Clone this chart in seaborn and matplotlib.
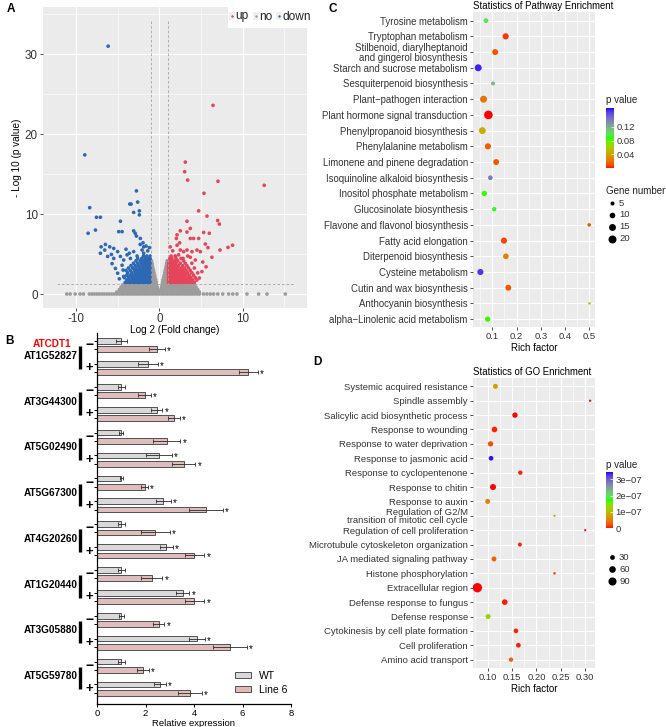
import numpy as np
import pandas as pd
import seaborn as sns
import matplotlib.pyplot as plt
from matplotlib.colors import ListedColormap, Normalize
from matplotlib.patches import Rectangle, Patch
from matplotlib.cm import ScalarMappable

plt.rcParams['font.family'] = ['Liberation Sans', 'DejaVu Sans']
plt.rcParams['axes.unicode_minus'] = False

# ---------------- A: volcano ----------------
up_x = [6.43, 3.11, 3.03, 3.39, 7.03, 12.57, 5.35, 4.71, 5.71, 3.31, 6.99, 7.19, 3.71, 3.31,
        2.51, 2.12, 2.04, 5.31, 5.99, 5.51, 5.83, 4.71, 3.71, 4.11, 7.27, 8.23, 8.78, 2.51,
        2.91, 3.31, 3.91, 4.51, 4.91, 1.92, 2.31, 2.84, 3.71, 4.31, 2.12, 2.43, 5.2, 5.6,
        6.3, 5.1, 4.8, 1.6, 1.3]
up_y = [23.6, 16.5, 15.3, 14.25, 14.1, 13.6, 12.6, 10.4, 9.75, 9.1, 9.2, 8.75, 8.2, 7.75,
        7.9, 7.4, 6.95, 7.7, 7.6, 6.25, 5.8, 6.95, 6.95, 6.95, 5.5, 5.83, 6.1, 5.5,
        5.3, 5.5, 5.3, 5.5, 5.3, 4.7, 4.9, 4.45, 4.6, 4.25, 6.1, 6.4, 4.0, 3.4,
        4.6, 2.8, 2.0, 5.4, 5.9]
up_rows_y = [1.45, 1.75, 2.05, 2.35, 2.65, 2.95, 3.25, 3.55, 3.85, 4.15, 4.45, 4.75]
up_rows_x = [
    [1.1, 1.35, 1.6, 1.85, 2.1, 2.35, 2.6, 2.85, 3.1, 3.35, 3.6, 3.9, 4.2],
    [1.1, 1.35, 1.6, 1.85, 2.1, 2.35, 2.6, 2.85, 3.1, 3.4, 3.7, 4.0, 4.5],
    [1.1, 1.35, 1.6, 1.85, 2.1, 2.35, 2.6, 2.85, 3.1, 3.5, 3.8, 4.3],
    [1.1, 1.35, 1.6, 1.85, 2.1, 2.35, 2.6, 2.9, 3.2, 3.6, 4.1],
    [1.1, 1.35, 1.6, 1.85, 2.1, 2.4, 2.7, 3.0, 3.4, 3.9, 4.6],
    [1.1, 1.35, 1.6, 1.85, 2.15, 2.5, 2.8, 3.2, 3.7],
    [1.1, 1.35, 1.6, 1.9, 2.2, 2.6, 3.0, 3.5, 4.2],
    [1.1, 1.35, 1.65, 1.95, 2.3, 2.8, 3.3],
    [1.15, 1.4, 1.7, 2.0, 2.5, 3.1, 3.9],
    [1.2, 1.45, 1.8, 2.2, 2.9],
    [1.25, 1.5, 2.0, 2.6],
    [1.4, 1.9, 3.4],
]
down_x = [-6.14, -8.94, -2.75, -3.55, -3.39, -2.6, -3.08, -2.4, -2.4, -8.35, -7.54, -7.07,
          -4.67, -7.66, -8.54, -4.87, -4.47, -3.08, -2.75, -2.28, -1.96, -1.88, -6.98, -6.47,
          -5.95, -5.47, -7.07, -6.55, -5.75, -5.47, -5.67, -5.27, -4.67, -4.28, -3.87, -3.47,
          -3.08, -2.67, -2.07, -1.88, -4.47, -4.35, -4.27, -2.9, -1.6, -1.4, -1.2, -2.3,
          -3.6, -4.0, -5.0, -6.2, -5.0, -4.8]
down_y = [31.0, 17.4, 12.9, 11.25, 11.25, 11.5, 10.2, 10.4, 9.9, 10.8, 9.6, 9.6,
          9.1, 8.0, 7.6, 7.8, 7.8, 7.9, 7.25, 6.95, 6.4, 5.9, 5.9, 6.2,
          5.9, 5.7, 5.1, 5.5, 4.95, 4.45, 3.8, 3.2, 4.7, 4.25, 4.9, 4.45,
          5.3, 4.75, 5.5, 5.1, 3.6, 3.0, 2.2, 7.6, 6.0, 5.4, 5.8, 6.2,
          5.1, 5.6, 5.3, 4.7, 2.6, 1.9]
down_rows_y = [1.45, 1.75, 2.05, 2.35, 2.65, 2.95, 3.25, 3.55, 3.85, 4.15, 4.45, 4.75]
down_rows_x = [
    [-1.1, -1.3, -1.5, -1.7, -1.95, -2.2, -2.45, -2.7, -2.95, -3.2, -3.5, -3.8, -4.1],
    [-1.1, -1.3, -1.5, -1.7, -1.95, -2.2, -2.45, -2.7, -2.95, -3.25, -3.6, -3.9],
    [-1.1, -1.3, -1.5, -1.7, -1.95, -2.2, -2.45, -2.7, -3.0, -3.3, -3.7, -4.2],
    [-1.1, -1.3, -1.5, -1.7, -1.95, -2.2, -2.5, -2.8, -3.1, -3.5, -3.9],
    [-1.1, -1.3, -1.5, -1.7, -1.95, -2.25, -2.55, -2.9, -3.3, -3.8],
    [-1.1, -1.3, -1.5, -1.7, -2.0, -2.3, -2.65, -3.0, -3.5, -4.0],
    [-1.1, -1.3, -1.5, -1.75, -2.05, -2.4, -2.8, -3.2, -3.7],
    [-1.1, -1.3, -1.5, -1.8, -2.1, -2.5, -2.9, -3.4],
    [-1.1, -1.3, -1.55, -1.85, -2.2, -2.6, -3.1],
    [-1.1, -1.3, -1.6, -1.9, -2.3, -2.8],
    [-1.1, -1.35, -1.7, -2.1, -2.6],
    [-1.1, -1.5, -1.9],
]
no_band_x = [-11.1, -10.7, -10.1, -9.5, -9.1, -8.4, -8.1, -7.8, -7.5, -7.2, -6.9, -6.6, -6.3,
             -6.0, -5.7, -5.4, -5.1, -4.8, -4.5, -4.2, -3.9, -3.6, -3.3, -3.0, -2.7, -2.4,
             -2.1, -1.8, -1.5, -1.2, -0.9, -0.6, -0.3, 0.0, 0.3, 0.6, 0.9, 1.2, 1.5, 1.8,
             2.1, 2.4, 2.7, 3.0, 3.3, 3.6, 3.9, 4.2, 4.5, 4.8, 5.3, 5.7, 6.1, 6.5, 7.0,
             7.6, 8.3, 8.8, 9.3, 10.5, 11.9, 12.9, 15.1]
no_rows_y = [0.25, 0.55, 0.85, 1.15, 1.45, 1.75, 2.05, 2.35, 2.65, 2.95, 3.25, 3.55, 3.85, 4.15]
no_rows_x = [
    [-5.1, -4.8, -4.5, -4.2, -3.9, -3.6, -3.3, -3.0, -2.7, -2.4, -2.1, -1.8, -1.5, -1.2, -0.9,
     -0.6, -0.35, -0.12, 0.12, 0.35, 0.6, 0.9, 1.2, 1.5, 1.8, 2.1, 2.4, 2.7, 3.0, 3.3, 3.6,
     3.9, 4.2, 4.5, 4.8],
    [-4.8, -4.5, -4.2, -3.9, -3.6, -3.3, -3.0, -2.7, -2.4, -2.1, -1.8, -1.5, -1.2, -0.9, -0.6,
     -0.38, -0.18, 0.18, 0.38, 0.6, 0.9, 1.2, 1.5, 1.8, 2.1, 2.4, 2.7, 3.0, 3.3, 3.6, 3.9,
     4.2, 4.6],
    [-4.6, -4.3, -4.0, -3.7, -3.4, -3.1, -2.8, -2.5, -2.2, -1.9, -1.6, -1.3, -1.0, -0.75,
     -0.5, -0.25, 0.25, 0.5, 0.75, 1.0, 1.3, 1.6, 1.9, 2.2, 2.5, 2.8, 3.1, 3.4, 3.7, 4.0, 4.4],
    [-4.4, -4.1, -3.8, -3.5, -3.2, -2.9, -2.6, -2.3, -2.0, -1.7, -1.4, -1.1, -0.85, -0.6,
     -0.33, 0.33, 0.6, 0.85, 1.1, 1.4, 1.7, 2.0, 2.3, 2.6, 2.9, 3.2, 3.5, 3.8, 4.2],
    [-0.95, -0.75, -0.55, -0.38, 0.38, 0.55, 0.75, 0.95],
    [-0.95, -0.75, -0.58, -0.43, 0.43, 0.58, 0.75, 0.95],
    [-0.95, -0.75, -0.52, 0.52, 0.75, 0.95],
    [-0.95, -0.76, -0.58, 0.58, 0.76, 0.95],
    [-0.95, -0.8, -0.64, 0.64, 0.8, 0.95],
    [-0.95, -0.8, -0.7, 0.7, 0.8, 0.95],
    [-0.95, -0.77, 0.77, 0.95],
    [-0.95, -0.83, 0.83, 0.95],
    [-0.95, -0.88, 0.88, 0.95],
    [-0.94, 0.94],
]
FC_CUT = 1.0
P_CUT = 1.3

# ---------------- B: relative expression ----------------
genes = ['AT1G52827', 'AT3G44300', 'AT5G02490', 'AT5G67300',
         'AT4G20260', 'AT1G20440', 'AT3G05880', 'AT5G59780']
wt_minus = [1.0, 1.0, 1.0, 1.0, 1.0, 1.0, 1.0, 1.0]
wt_minus_err = [0.22, 0.14, 0.08, 0.07, 0.14, 0.14, 0.11, 0.15]
l6_minus = [2.47, 1.96, 2.88, 1.96, 2.41, 2.26, 2.55, 1.88]
l6_minus_err = [0.32, 0.26, 0.56, 0.14, 0.60, 0.44, 0.23, 0.25]
wt_plus = [2.10, 2.47, 2.55, 2.74, 2.85, 3.54, 4.12, 2.59]
wt_plus_err = [0.40, 0.23, 0.53, 0.30, 0.27, 0.27, 0.32, 0.25]
l6_plus = [6.24, 3.16, 3.58, 4.50, 4.02, 4.02, 5.49, 3.84]
l6_plus_err = [0.38, 0.25, 0.48, 0.69, 0.41, 0.41, 0.69, 0.48]

# ---------------- C: KEGG pathway enrichment ----------------
pw_terms = ['Tyrosine metabolism', 'Tryptophan metabolism',
            'Stilbenoid, diarylheptanoid\nand gingerol biosynthesis',
            'Starch and sucrose metabolism', 'Sesquiterpenoid biosynthesis',
            'Plant\u2212pathogen interaction', 'Plant hormone signal transduction',
            'Phenylpropanoid biosynthesis', 'Phenylalanine metabolism',
            'Limonene and pinene degradation', 'Isoquinoline alkaloid biosynthesis',
            'Inositol phosphate metabolism', 'Glucosinolate biosynthesis',
            'Flavone and flavonol biosynthesis', 'Fatty acid elongation',
            'Diterpenoid biosynthesis', 'Cysteine metabolism', 'Cutin and wax biosynthesis',
            'Anthocyanin biosynthesis', 'alpha\u2212Linolenic acid metabolism']
pw_rich = [0.074, 0.155, 0.112, 0.042, 0.103, 0.064, 0.084, 0.059, 0.082, 0.116,
           0.092, 0.067, 0.108, 0.499, 0.148, 0.156, 0.051, 0.166, 0.500, 0.081]
pw_genes = [7, 12, 11, 15, 5, 15, 23, 15, 12, 11, 7, 9, 6, 4, 12, 10, 12, 11, 2, 9]
pw_p = [0.100, 0.005, 0.012, 0.170, 0.115, 0.020, 0.0005, 0.045, 0.015, 0.012,
        0.140, 0.085, 0.090, 0.012, 0.008, 0.025, 0.165, 0.012, 0.065, 0.085]

# ---------------- D: GO enrichment ----------------
go_terms = ['Systemic acquired resistance', 'Spindle assembly',
            'Salicylic acid biosynthetic process', 'Response to wounding',
            'Response to water deprivation', 'Response to jasmonic acid',
            'Response to cyclopentenone', 'Response to chitin', 'Response to auxin',
            'Regulation of G2/M\ntransition of mitotic cell cycle',
            'Regulation of cell proliferation', 'Microtubule cytoskeleton organization',
            'JA mediated signaling pathway', 'Histone phosphorylation', 'Extracellular region',
            'Defense response to fungus', 'Defense response',
            'Cytokinesis by cell plate formation', 'Cell proliferation', 'Amino acid transport']
go_rich = [0.116, 0.310, 0.156, 0.114, 0.106, 0.107, 0.167, 0.111, 0.100, 0.237,
           0.300, 0.166, 0.113, 0.237, 0.079, 0.135, 0.101, 0.158, 0.163, 0.148]
go_genes = [33, 6, 38, 43, 38, 29, 25, 49, 33, 6, 6, 21, 33, 8, 120, 43, 33, 29, 29, 25]
go_p = [0.75e-7, 0.0, 0.01e-7, 0.05e-7, 0.2e-7, 3.4e-7, 0.05e-7, 0.01e-7, 0.5e-7, 0.8e-7,
        0.02e-7, 0.05e-7, 0.3e-7, 0.2e-7, 0.0, 0.03e-7, 1.25e-7, 0.05e-7, 0.03e-7, 0.3e-7]


# red -> green -> blue ramp interpolated in Lab space (as ggplot does)
M = np.array([[0.4124, 0.3576, 0.1805], [0.2126, 0.7152, 0.0722], [0.0193, 0.1192, 0.9505]])
WP = np.array([0.95047, 1.0, 1.08883])


def to_lab(rgb):
    c = np.asarray(rgb, float)
    lin = np.where(c <= 0.04045, c / 12.92, ((c + 0.055) / 1.055) ** 2.4)
    xyz = M @ lin / WP
    f = np.where(xyz > 0.008856, np.cbrt(xyz), 7.787 * xyz + 16 / 116)
    return np.array([116 * f[1] - 16, 500 * (f[0] - f[1]), 200 * (f[1] - f[2])])


def from_lab(lab):
    fy = (lab[0] + 16) / 116
    f = np.array([fy + lab[1] / 500, fy, fy - lab[2] / 200])
    xyz = np.where(f ** 3 > 0.008856, f ** 3, (f - 16 / 116) / 7.787) * WP
    lin = np.clip(np.linalg.solve(M, xyz), 0, 1)
    return np.where(lin <= 0.0031308, 12.92 * lin, 1.055 * lin ** (1 / 2.4) - 0.055)


nodes = [to_lab(c) for c in ([1, 0, 0], [0, 1, 0], [0, 0, 1])]
ramp = []
for t in np.linspace(0, 1, 256):
    k = min(int(t * 2), 1)
    u = t * 2 - k
    ramp.append(np.clip(from_lab(nodes[k] * (1 - u) + nodes[k + 1] * u), 0, 1))
cmap = ListedColormap(ramp)

W, H = 666, 727
fig = plt.figure(figsize=(W / 100, H / 100), dpi=100)


def px_axes(l, t, r, b):
    return fig.add_axes([l / W, 1 - b / H, (r - l) / W, (b - t) / H])


def gg_style(ax):
    ax.set_facecolor('#EBEBEB')
    for s in ax.spines.values():
        s.set_visible(False)
    ax.grid(True, which='major', color='white', lw=0.8)
    ax.grid(True, which='minor', color='white', lw=0.4)
    ax.set_axisbelow(True)
    ax.tick_params(which='major', length=2.2, width=0.6, color='#333333', pad=1.5,
                   labelcolor='#333333')
    ax.tick_params(which='minor', length=0)


# ---------------- panel A ----------------
nx, ny = list(no_band_x), [0.0] * len(no_band_x)
for y, xs in zip(no_rows_y, no_rows_x):
    nx += xs
    ny += [y] * len(xs)
dx, dy = list(down_x), list(down_y)
for y, xs in zip(down_rows_y, down_rows_x):
    dx += xs
    dy += [y] * len(xs)
ux, uy = list(up_x), list(up_y)
for y, xs in zip(up_rows_y, up_rows_x):
    ux += xs
    uy += [y] * len(xs)
volc = pd.DataFrame({'fc': nx + dx + ux, 'logp': ny + dy + uy,
                     'grp': ['no'] * len(nx) + ['down'] * len(dx) + ['up'] * len(ux)})
pal_A = {'up': '#E5455B', 'no': '#9C9C9C', 'down': '#2D68B5'}

axA = px_axes(43, 7, 307, 308)
gg_style(axA)
sns.scatterplot(data=volc, x='fc', y='logp', hue='grp', palette=pal_A, s=7, linewidth=0,
                legend=False, ax=axA)
for xv in (-FC_CUT, FC_CUT):
    axA.plot([xv, xv], [0, 34.3], ls=(0, (3, 2.5)), color='#A0A0A0', lw=0.6)
axA.plot([-12.3, 16.3], [P_CUT, P_CUT], ls=(0, (3, 2.5)), color='#A0A0A0', lw=0.6)
axA.set_xlim(-13.95, 17.7)
axA.set_ylim(-1.75, 35.9)
axA.set_xticks([-10, 0, 10])
axA.set_xticks([-5, 5, 15], minor=True)
axA.set_yticks([0, 10, 20, 30])
axA.set_yticks([5, 15, 25, 35], minor=True)
axA.tick_params(labelsize=8.4)
axA.set_xlabel('Log 2 (Fold change)', fontsize=7.2, labelpad=0.2)
axA.set_ylabel('- Log 10 (p value)', fontsize=7.2, labelpad=2)

# ---------------- panel B ----------------
recs = []
for g in range(len(genes)):
    base = g * 5.5
    for off, v, e, line in ((0, wt_minus[g], wt_minus_err[g], 'WT'),
                            (1, l6_minus[g], l6_minus_err[g], 'Line 6'),
                            (2.75, wt_plus[g], wt_plus_err[g], 'WT'),
                            (3.75, l6_plus[g], l6_plus_err[g], 'Line 6')):
        recs.append((base + off, v, e, line, off > 0))
dfB = pd.DataFrame(recs, columns=['pos', 'val', 'err', 'line', 'star'])
pal_B = {'WT': '#D9D9D9', 'Line 6': '#E5B8B6'}

axB = px_axes(97, 333, 291, 704)
axB.patch.set_visible(False)
sns.barplot(data=dfB, x='val', y='pos', hue='line', orient='h', native_scale=True,
            dodge=False, palette=pal_B, width=0.68, edgecolor='#3A3A3A', linewidth=0.6,
            errorbar=None, legend=False, ax=axB)
axB.errorbar(dfB['val'], dfB['pos'], xerr=dfB['err'], fmt='none', ecolor='#2A2A2A',
             elinewidth=0.6, capsize=1.5, capthick=0.6)
for _, r in dfB[dfB['star']].iterrows():
    axB.text(r['val'] + r['err'] + 0.08, r['pos'] + 0.25, '*', fontsize=7,
             ha='left', va='center')
axB.set_xlim(0, 8)
axB.set_ylim(43.6, -0.96)
axB.set_xticks([0, 2, 4, 6, 8])
axB.set_yticks(dfB['pos'])
axB.set_yticklabels([])
axB.tick_params(axis='y', length=2, width=0.7)
axB.tick_params(axis='x', length=2.5, width=0.7, labelsize=6.8, pad=1)
for side in ('top', 'right'):
    axB.spines[side].set_visible(False)
for side in ('left', 'bottom'):
    axB.spines[side].set_linewidth(0.9)
axB.set_xlabel('Relative expression', fontsize=6.8, labelpad=1)
axB.set_ylabel('')
ytr = axB.get_yaxis_transform()
for g, name in enumerate(genes):
    base = g * 5.5
    axB.text(-0.041, base + 0.5, '\u2212', transform=ytr, fontsize=10, fontweight='bold',
             ha='center', va='center')
    axB.text(-0.041, base + 3.3, '+', transform=ytr, fontsize=9.5, fontweight='bold',
             ha='center', va='center')
    axB.plot([-0.088, -0.088], [base + 0.64, base + 3.33], transform=ytr, color='black',
             lw=2.4, clip_on=False, solid_capstyle='butt')
    axB.text(-0.1, base + 1.77, name, transform=ytr, fontsize=7.2, fontweight='bold',
             ha='right', va='center')
axB.text(-0.232, 0.36, 'ATCDT1', transform=ytr, fontsize=7.2, fontweight='bold',
         color='#FF0000', ha='center', va='center')
axB.legend(handles=[Patch(facecolor=pal_B['WT'], edgecolor='#3A3A3A', lw=0.6),
                    Patch(facecolor=pal_B['Line 6'], edgecolor='#3A3A3A', lw=0.6)],
           labels=['WT', 'Line 6'], loc='lower right', bbox_to_anchor=(1.03, 0.0),
           frameon=False, fontsize=7.5, handlelength=1.5, handleheight=0.55,
           labelspacing=0.35, handletextpad=0.8)

# ---------------- panel C ----------------
axC = px_axes(473, 12, 595, 327)
gg_style(axC)
sns.scatterplot(x=pw_rich, y=np.arange(len(pw_terms)), hue=pw_p, palette=cmap,
                hue_norm=(0, 0.175), size=pw_genes, sizes=(0, 41.5), size_norm=(0, 25),
                linewidth=0, legend=False, ax=axC)
axC.set_xlim(0.0206, 0.523)
axC.set_ylim(19.5, -0.55)
axC.set_xticks([0.1, 0.2, 0.3, 0.4, 0.5])
axC.set_xticklabels(['0.1', '0.2', '0.3', '0.4', '0.5'])
axC.set_xticks([0.05, 0.15, 0.25, 0.35, 0.45], minor=True)
axC.set_yticks(np.arange(len(pw_terms)))
axC.set_yticklabels(pw_terms, fontsize=6.9, linespacing=0.95)
axC.tick_params(axis='x', labelsize=6.8)
axC.set_title('Statistics of Pathway Enrichment', loc='left', fontsize=6.9, pad=2.5)
axC.set_xlabel('Rich factor', fontsize=7, labelpad=1)

# ---------------- panel D ----------------
axD = px_axes(473, 378, 595, 668)
gg_style(axD)
sns.scatterplot(x=go_rich, y=np.arange(len(go_terms)), hue=go_p, palette=cmap,
                hue_norm=(0, 3.45e-7), size=go_genes, sizes=(0.52, 45.3), size_norm=(0, 120),
                linewidth=0, legend=False, ax=axD)
axD.set_xlim(0.070, 0.32)
axD.set_ylim(19.58, -0.58)
axD.set_xticks([0.10, 0.15, 0.20, 0.25, 0.30])
axD.set_xticklabels(['0.10', '0.15', '0.20', '0.25', '0.30'])
axD.set_xticks([0.075, 0.125, 0.175, 0.225, 0.275], minor=True)
axD.set_yticks(np.arange(len(go_terms)))
axD.set_yticklabels(go_terms, fontsize=6.8, linespacing=0.95)
axD.tick_params(axis='x', labelsize=6.8)
axD.set_title('Statistics of GO Enrichment', loc='left', fontsize=6.9, pad=2.5)
axD.set_xlabel('Rich factor', fontsize=7, labelpad=1)


# ---------------- colour bars ----------------
def colbar(l, t, r, b, vmax, ticks, labels):
    cax = px_axes(l, t, r, b)
    cb = fig.colorbar(ScalarMappable(norm=Normalize(0, vmax), cmap=cmap), cax=cax)
    cb.outline.set_visible(False)
    cb.set_ticks(ticks)
    cb.set_ticklabels(labels)
    cax.tick_params(length=2, width=0.5, color='white', direction='in', labelsize=6.8,
                    labelcolor='#333333', pad=2)


colbar(606, 108, 614, 168, 0.175, [0.04, 0.08, 0.12], ['0.04', '0.08', '0.12'])
colbar(606, 472, 613, 528, 3.45e-7, [0, 1e-7, 2e-7, 3e-7],
       ['0', '1e\u221207', '2e\u221207', '3e\u221207'])

# ---------------- overlay: legends and panel letters ----------------
ov = fig.add_axes([0, 0, 1, 1])
ov.set_xlim(0, W)
ov.set_ylim(H, 0)
ov.axis('off')

ov.add_patch(Rectangle((228, 7), 87, 21, facecolor='white', edgecolor='none'))
for xk, grp, txt in ((232.3, 'up', 'up'), (256, 'no', 'no'), (279.3, 'down', 'down')):
    ov.add_patch(Rectangle((xk - 3, 12), 6, 8, facecolor='#F0F0F0', edgecolor='none'))
    ov.scatter([xk], [16], s=3, color=pal_A[grp], linewidths=0)
    ov.text(xk + 3, 16.5, txt, fontsize=8.6, va='center', ha='left', color='#222222')

ov.text(606, 100, 'p value', fontsize=7, va='center', ha='left', color='#222222')
ov.text(606, 191, 'Gene number', fontsize=7, va='center', ha='left', color='#222222')
for n, yk in zip([5, 10, 15, 20], [203, 214.5, 226.5, 238.5]):
    ov.scatter([612], [yk], s=1.66 * n, color='black', linewidths=0)
    ov.text(619, yk, str(n), fontsize=6.8, va='center', ha='left', color='#333333')
ov.text(606, 465, 'p value', fontsize=7, va='center', ha='left', color='#222222')
for n, yk in zip([30, 60, 90], [557, 569, 581]):
    ov.scatter([612], [yk], s=0.52 + 0.373 * n, color='black', linewidths=0)
    ov.text(619, yk, str(n), fontsize=6.8, va='center', ha='left', color='#333333')

for letter, xl, yl in (('A', 11, 9), ('B', 10, 341), ('C', 333, 9), ('D', 317, 362)):
    ov.text(xl, yl, letter, fontsize=8.5, fontweight='bold', ha='center', va='center')

fig.savefig('out.png', dpi=100)
